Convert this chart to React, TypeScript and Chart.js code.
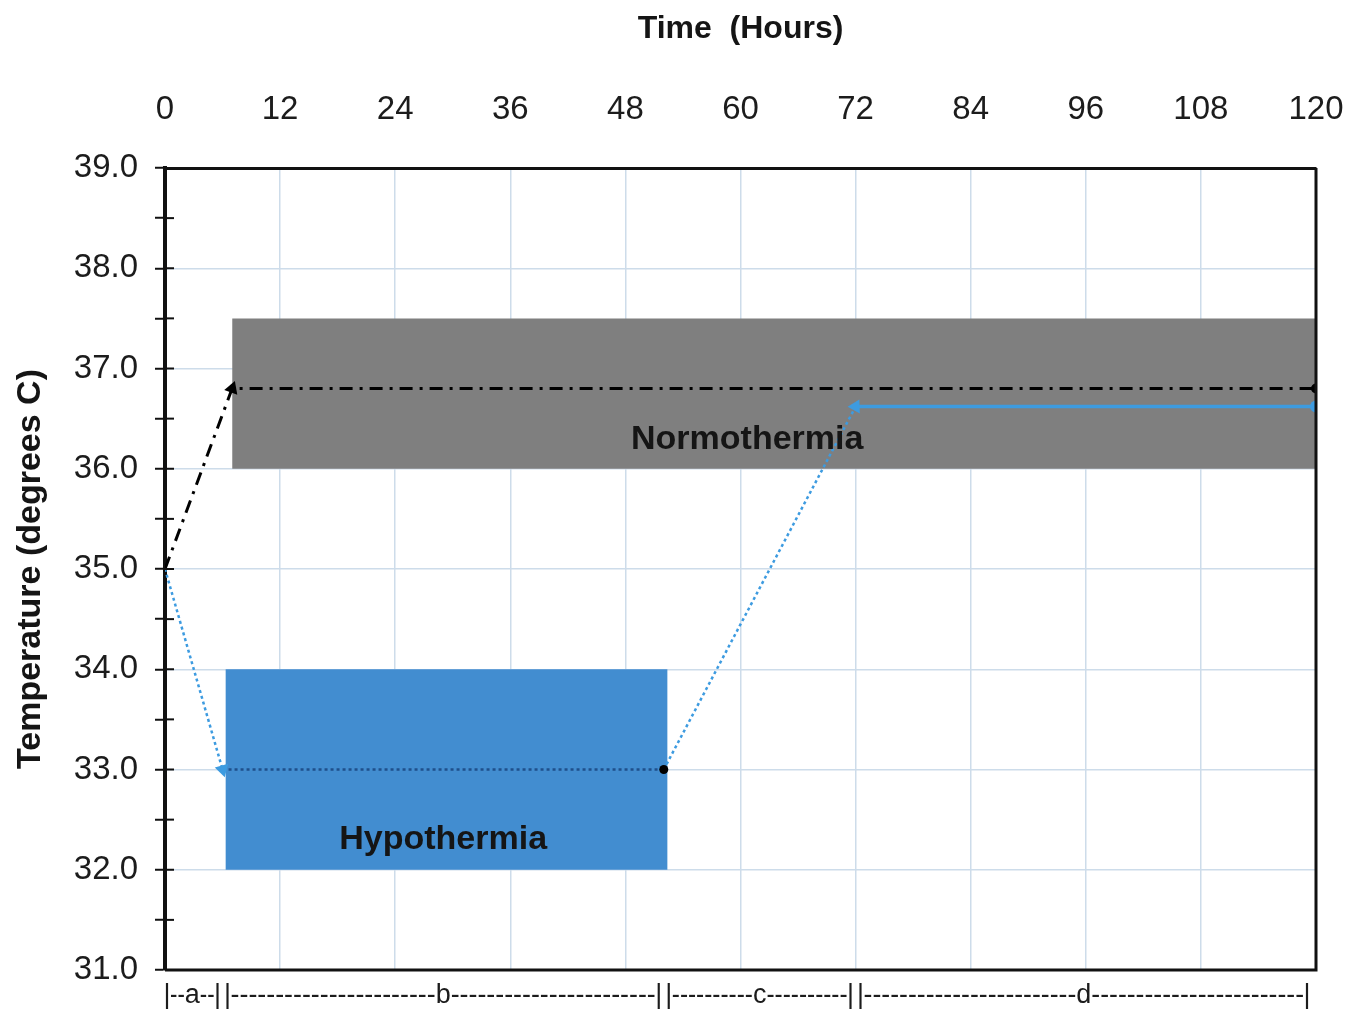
import React, { useEffect, useRef } from "react";
import { Chart, registerables } from "chart.js";

Chart.register(...registerables);

// ---- data ----
const X_MIN = 0;
const X_MAX = 120;
const X_STEP = 12;
const Y_MIN = 31;
const Y_MAX = 39;

const normoLineX = [0, 7, 120];
const normoLineY = [35, 36.8, 36.8];

const coolLineX = [0, 6, 52, 72, 120];
const coolLineY = [35, 33, 33, 36.62, 36.62];

const normoBandX = [7, 120];
const normoBandY = [36, 37.5];
const hypoBandX = [6.3, 52.4];
const hypoBandY = [32, 34];

const bandLabels = ["Normothermia", "Hypothermia"];
const bandLabelX = [60.7, 29];
const bandLabelY = [36.29, 32.3];

const phaseBounds = [0, 6, 52, 72, 120];
const phaseNames = ["a", "b", "c", "d"];

const FONT = "'Liberation Sans', Arial, sans-serif";

export default function App() {
  const ref = useRef<HTMLCanvasElement | null>(null);

  useEffect(() => {
    if (!ref.current) return;

    const overlay = {
      id: "overlay",
      afterDatasetsDraw(chart: any) {
        const ctx = chart.ctx;
        const xs = chart.scales.x;
        const ys = chart.scales.y;
        ctx.save();
        ctx.font = `bold 34px ${FONT}`;
        ctx.fillStyle = "#151515";
        ctx.textAlign = "center";
        ctx.textBaseline = "middle";
        bandLabels.forEach((t, i) => {
          ctx.fillText(t, xs.getPixelForValue(bandLabelX[i]), ys.getPixelForValue(bandLabelY[i]));
        });
        ctx.restore();
      },
      afterDraw(chart: any) {
        const ctx = chart.ctx;
        const xs = chart.scales.x;
        const ys = chart.scales.y;
        const area = chart.chartArea;
        ctx.save();
        ctx.strokeStyle = "#111";
        ctx.lineWidth = 3;
        ctx.beginPath();
        ctx.moveTo(area.left, area.bottom);
        ctx.lineTo(area.right, area.bottom);
        ctx.lineTo(area.right, area.top);
        ctx.stroke();
        ctx.lineWidth = 2;
        ys.ticks.forEach((t: any) => {
          const y = ys.getPixelForValue(t.value);
          if (t.value === Y_MIN || t.value === Y_MAX) return;
          ctx.beginPath();
          ctx.moveTo(area.left, y);
          ctx.lineTo(area.left + 9, y);
          ctx.stroke();
        });
        // phase annotation below axis
        ctx.font = `27px ${FONT}`;
        ctx.fillStyle = "#1c1c1c";
        ctx.textBaseline = "middle";
        const ty = area.bottom + 26;
        const dw = ctx.measureText("-").width;
        const n = phaseNames.length;
        for (let i = 0; i < n; i++) {
          const b0 = xs.getPixelForValue(phaseBounds[i]);
          const b1 = xs.getPixelForValue(phaseBounds[i + 1]);
          const p0 = i === 0 ? b0 + 2 : b0 + 5;
          const p1 = i === n - 1 ? b1 - 9 : b1 - 5;
          ctx.textAlign = "center";
          ctx.fillText("|", p0, ty);
          ctx.fillText("|", p1, ty);
          const mid = (p0 + p1) / 2;
          const lw = ctx.measureText(phaseNames[i]).width;
          ctx.fillText(phaseNames[i], mid, ty);
          const l0 = p0 + 3;
          const l1 = mid - lw / 2;
          const r0 = mid + lw / 2;
          const r1 = p1 - 3;
          const nl = Math.max(1, Math.ceil((l1 - l0) / dw));
          const nr = Math.max(1, Math.ceil((r1 - r0) / dw));
          ctx.textAlign = "left";
          ctx.fillText("-".repeat(nl), l0, ty, l1 - l0);
          ctx.fillText("-".repeat(nr), r0, ty, r1 - r0);
        }
        ctx.restore();
      },
    };

    const toPts = (xa: number[], ya: number[]) => xa.map((x, i) => ({ x, y: ya[i] }));
    const bandPts = (xa: number[], ya: number[]) => [
      { x: xa[0], y: ya[1] },
      { x: xa[1], y: ya[1] },
    ];

    const blue = "#3d9be0";
    const chart = new Chart(ref.current, {
      type: "scatter",
      data: {
        datasets: [
          {
            data: toPts(normoLineX, normoLineY),
            showLine: true,
            borderColor: "#000",
            borderWidth: 3,
            borderDash: [13, 7, 3, 7],
            pointStyle: ["circle", "triangle", "circle"] as any,
            pointRadius: [0, 8, 5],
            pointRotation: [0, 20, 0],
            pointBackgroundColor: "#000",
            pointBorderColor: "#000",
            pointBorderWidth: 0,
            order: 0,
          } as any,
          {
            data: toPts(coolLineX, coolLineY),
            showLine: true,
            borderColor: blue,
            borderWidth: 2.5,
            segment: {
              borderDash: (c: any) => (c.p0DataIndex === 3 ? [] : [3, 3]),
              borderColor: (c: any) => (c.p0DataIndex === 1 ? "#1f4f8a" : blue),
              borderWidth: (c: any) => (c.p0DataIndex === 3 ? 3.5 : 2.5),
            },
            pointStyle: ["circle", "triangle", "circle", "triangle", "circle"] as any,
            pointRadius: [0, 8, 4.5, 8, 6],
            pointRotation: [0, 164, 0, 28, 0],
            pointBackgroundColor: [blue, blue, "#000", blue, blue],
            pointBorderWidth: 0,
            order: 0,
          } as any,
          {
            data: bandPts(normoBandX, normoBandY),
            showLine: true,
            fill: { value: normoBandY[0] },
            backgroundColor: "#7f7f7f",
            borderColor: "transparent",
            borderWidth: 0,
            pointRadius: 0,
            order: 1,
          } as any,
          {
            data: bandPts(hypoBandX, hypoBandY),
            showLine: true,
            fill: { value: hypoBandY[0] },
            backgroundColor: "#428dd0",
            borderColor: "transparent",
            borderWidth: 0,
            pointRadius: 0,
            order: 1,
          } as any,
        ],
      },
      options: {
        animation: false,
        responsive: true,
        maintainAspectRatio: false,
        layout: { padding: { left: 0, right: 48, top: 0, bottom: 41 } },
        plugins: {
          legend: { display: false },
          tooltip: { enabled: false },
        },
        scales: {
          x: {
            type: "linear",
            position: "top",
            min: X_MIN,
            max: X_MAX,
            afterFit: (s: any) => {
              s.height = 168;
              s.paddingRight = 0;
              s.paddingLeft = 0;
            },
            ticks: {
              stepSize: X_STEP,
              padding: 38,
              color: "#1c1c1c",
              font: { family: FONT, size: 33 },
              maxRotation: 0,
            },
            grid: { color: "#cddcea", lineWidth: 1.5, drawTicks: false },
            border: { display: true, color: "#111", width: 3 },
            title: {
              display: true,
              text: "Time  (Hours)",
              color: "#151515",
              font: { family: FONT, size: 32, weight: "bold" },
              padding: { top: 10, bottom: 0 },
            },
          },
          y: {
            type: "linear",
            min: Y_MIN,
            max: Y_MAX,
            afterFit: (s: any) => {
              s.width = 165;
            },
            afterBuildTicks: (s: any) => {
              const t: any[] = [];
              for (let v = Y_MIN; v <= Y_MAX + 1e-9; v += 0.5) t.push({ value: v });
              s.ticks = t;
            },
            ticks: {
              autoSkip: false,
              padding: 17,
              color: "#1c1c1c",
              font: { family: FONT, size: 33 },
              callback: (v: any) => (Math.abs(v % 1) < 1e-9 ? Number(v).toFixed(1) : ""),
            },
            grid: {
              color: (c: any) =>
                c.tick && Math.abs(c.tick.value % 1) < 1e-9 ? "#cddcea" : "transparent",
              lineWidth: 1.5,
              tickColor: "#111",
              tickLength: 10,
              tickWidth: 2,
            },
            border: { display: true, color: "#111", width: 4 },
            title: {
              display: true,
              text: "Temperature (degrees C)",
              color: "#151515",
              font: { family: FONT, size: 34, weight: "bold" },
              padding: { top: 10, bottom: 0 },
            },
          },
        },
      },
      plugins: [overlay],
    } as any);

    return () => chart.destroy();
  }, []);

  return (
    <div
      style={{
        position: "absolute",
        left: 0,
        top: 0,
        width: 1364,
        height: 1011,
        background: "#fff",
      }}
    >
      <canvas ref={ref} />
    </div>
  );
}
